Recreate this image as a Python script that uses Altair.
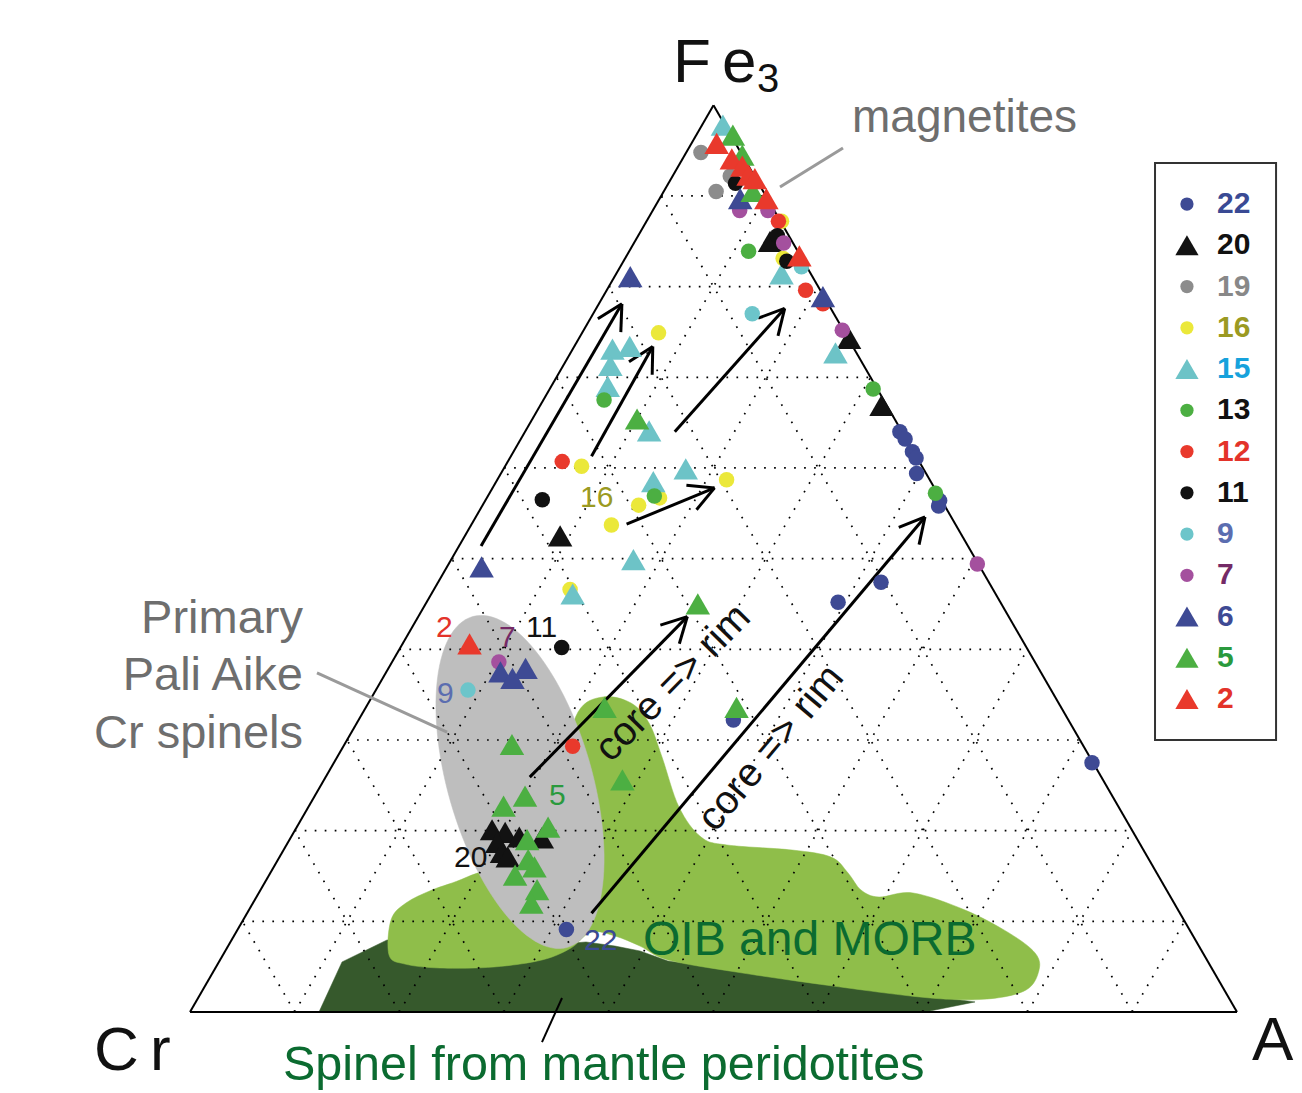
import math
import altair as alt
import pandas as pd

# ---------------- data: ternary compositions, Fe3+ % and Al % (Cr = 100 - Fe3 - Al)
series_names = ["22", "20", "19", "16", "15", "13", "12", "11", "9", "7", "6", "5", "2"]

fe_22 = [9.1, 32.2, 45.2, 47.4, 64.0, 63.2, 61.8, 61.1, 59.4, 56.4, 55.8, 27.5]
al_22 = [31.4, 35.8, 39.3, 42.3, 35.8, 36.7, 38.1, 38.8, 39.7, 43.4, 43.6, 72.4]

fe_20 = [20.1, 19.8, 18.7, 17.6, 17.1, 19.3, 19.2, 52.5, 66.9, 74.3, 85.0]
al_20 = [18.8, 20.2, 20.0, 21.0, 21.8, 21.8, 24.0, 9.1, 32.6, 25.8, 12.9]

fe_19 = [94.8, 90.5, 92.2]
al_19 = [1.4, 5.0, 5.5]

fe_16 = [74.9, 60.2, 58.7, 55.9, 53.7, 56.7, 46.6, 87.2, 83.1]
al_16 = [7.3, 7.3, 21.9, 14.9, 13.4, 16.5, 13.0, 12.9, 15.1]

fe_15 = [73.1, 73.4, 71.3, 69.0, 64.1, 59.9, 58.5, 49.9, 46.1, 97.8, 81.4, 72.7]
al_15 = [3.8, 5.3, 4.5, 5.4, 11.8, 17.4, 15.0, 17.4, 13.5, 2.0, 15.8, 25.3]

fe_13 = [83.9, 56.9, 67.5, 68.7, 57.2]
al_13 = [11.4, 15.9, 5.8, 30.9, 42.6]

fe_12 = [60.7, 29.3, 79.6, 87.2, 78.1]
al_12 = [5.2, 21.9, 19.0, 12.6, 21.4]

fe_11 = [56.5, 40.2, 91.4, 85.6, 82.8]
al_11 = [5.4, 15.4, 6.4, 13.3, 15.6]

fe_9 = [35.5, 77.0, 82.2]
al_9 = [8.8, 15.2, 17.3]

fe_7 = [38.6, 49.4, 75.2, 88.4, 88.4, 84.8]
al_7 = [10.2, 50.5, 24.7, 8.3, 11.0, 14.3]

fe_6 = [81.1, 49.1, 37.5, 36.8, 37.9, 78.9, 89.7]
al_6 = [1.5, 3.3, 10.9, 12.4, 13.1, 21.0, 7.7]

fe_5 = [29.5, 22.7, 23.8, 20.4, 19.0, 16.8, 16.0, 15.1, 13.5, 12.0, 33.6, 25.6, 65.4, 45.0, 33.6, 96.7, 94.5, 90.5]
al_5 = [16.0, 18.6, 20.1, 24.0, 22.7, 23.9, 24.9, 23.5, 26.4, 26.6, 22.8, 28.5, 10.0, 26.0, 35.4, 3.5, 5.5, 8.5]

fe_2 = [40.6, 95.8, 94.1, 93.3, 92.3, 91.9, 89.7, 83.4]
al_2 = [6.4, 2.4, 4.7, 6.1, 7.2, 8.0, 10.2, 16.5]

# core => rim arrows (tail Fe, tail Al, tip Fe, tip Al)
arrow_tail_fe = [51.4, 61.3, 64.0, 53.8, 25.9, 10.9]
arrow_tail_al = [2.1, 7.7, 14.3, 14.8, 19.5, 32.9]
arrow_tip_fe = [78.1, 73.4, 77.6, 57.8, 43.6, 54.6]
arrow_tip_al = [2.2, 7.5, 18.0, 21.2, 25.7, 42.9]

# fields (diagram units: Cr at (0,0), Al at (1,0))
peridotite_u = [0.1232, 0.1452, 0.1882, 0.2674, 0.3534, 0.3782, 0.4059, 0.4298, 0.4565, 0.5215, 0.6141, 0.7068, 0.7498, 0.7020]
peridotite_v = [0.0, 0.0478, 0.0688, 0.0688, 0.0649, 0.0669, 0.0630, 0.0583, 0.0487, 0.0401, 0.0267, 0.0153, 0.0096, 0.0]

oib_u = [0.1901, 0.1920, 0.2063, 0.2311, 0.2646, 0.3152, 0.3534, 0.3706, 0.3945, 0.4212, 0.4384, 0.4508, 0.4670,
         0.4881, 0.5129, 0.5750, 0.6122, 0.6285, 0.6409, 0.6581, 0.6905, 0.7402, 0.7822, 0.8071, 0.8109, 0.7985,
         0.7612, 0.7068, 0.6141, 0.5215, 0.4565, 0.4298, 0.4059, 0.3830, 0.3639, 0.3362, 0.2904, 0.2388, 0.2053]
oib_v = [0.0544, 0.0879, 0.1041, 0.1165, 0.1289, 0.1547, 0.2311, 0.2865, 0.3009, 0.2951, 0.2760, 0.2436, 0.1958,
         0.1671, 0.1595, 0.1547, 0.1480, 0.1328, 0.1165, 0.1098, 0.1137, 0.0974, 0.0755, 0.0564, 0.0401, 0.0210,
         0.0124, 0.0134, 0.0248, 0.0382, 0.0497, 0.0630, 0.0726, 0.0764, 0.0611, 0.0497, 0.0430, 0.0420, 0.0458]

# Primary Pali Aike field: ellipse centre, semi-axes, tilt
pali_center = (0.3152, 0.2197)
pali_axes = (0.1643, 0.0690)
pali_tilt_deg = 16

# ---------------- styles
FONT = "Liberation Sans"
SHAPE = {"22": "circle", "20": "triangle-up", "19": "circle", "16": "circle", "15": "triangle-up",
         "13": "circle", "12": "circle", "11": "circle", "9": "circle", "7": "circle",
         "6": "triangle-up", "5": "triangle-up", "2": "triangle-up"}
MARK_COLOR = {"22": "#3e4a94", "20": "#121212", "19": "#8c8c8c", "16": "#ebe83a", "15": "#6dc3c7",
              "13": "#4caf42", "12": "#e9392c", "11": "#111111", "9": "#6cc5ca", "7": "#a4509e",
              "6": "#3e4a94", "5": "#4caf42", "2": "#e9392c"}
LABEL_COLOR = {"22": "#3a4a94", "20": "#111111", "19": "#888888", "16": "#9b9a22", "15": "#16a2dc",
               "13": "#111111", "12": "#e3332a", "11": "#111111", "9": "#5b6db0", "7": "#742a66",
               "6": "#3e4a94", "5": "#2a9a3d", "2": "#e3332a"}
SERIES_DATA = {"22": (fe_22, al_22), "20": (fe_20, al_20), "19": (fe_19, al_19), "16": (fe_16, al_16),
               "15": (fe_15, al_15), "13": (fe_13, al_13), "12": (fe_12, al_12), "11": (fe_11, al_11),
               "9": (fe_9, al_9), "7": (fe_7, al_7), "6": (fe_6, al_6), "5": (fe_5, al_5), "2": (fe_2, al_2)}
SIZE = {"circle": 240, "triangle-up": 600}
LEG_SIZE = {"circle": 175, "triangle-up": 540}

S3 = math.sqrt(3) / 2


def tern(fe, al):
    return al / 100 + fe / 200, fe / 100 * S3


W, H = 1286, 1085
XS = alt.Scale(domain=[-182 / 1047, (W - 182) / 1047], nice=False, zero=False)
YS = alt.Scale(domain=[(1004 - H) / 1047, 1004 / 1047], nice=False, zero=False)


def X(f):
    return alt.X(f, type="quantitative", scale=XS, axis=None)


def Y(f):
    return alt.Y(f, type="quantitative", scale=YS, axis=None)


def rules(rows, **kw):
    return alt.Chart(pd.DataFrame(rows)).mark_rule(**kw).encode(
        x=X("x"), y=Y("y"), x2="x2:Q", y2="y2:Q")


def seg(p, q):
    return dict(x=p[0], y=p[1], x2=q[0], y2=q[1])


# ---------------- polygons
def poly(us, vs, color, interp):
    df = pd.DataFrame({"x": us, "y": vs, "i": range(len(us))})
    return alt.Chart(df).mark_line(fill=color, stroke=color, strokeWidth=0.5,
                                   interpolate=interp).encode(
        x=X("x"), y=Y("y"), order=alt.Order("i:Q"))


th = math.radians(pali_tilt_deg)
d = (-math.sin(th), math.cos(th))
e = (math.cos(th), math.sin(th))
eu, ev = [], []
for k in range(120):
    t = 2 * math.pi * k / 120
    ca, sb = pali_axes[0] * math.cos(t), pali_axes[1] * math.sin(t)
    eu.append(pali_center[0] + ca * d[0] + sb * e[0])
    ev.append(pali_center[1] + ca * d[1] + sb * e[1])

layers = [
    poly(peridotite_u, peridotite_v, "#36592c", "linear-closed"),
    poly(oib_u, oib_v, "#8fbe4a", "cardinal-closed"),
    poly(eu, ev, "#bebebe", "linear-closed"),
]

# ---------------- grid
grid = []
for k in range(1, 10):
    c = 10 * k
    grid.append(seg(tern(c, 0), tern(c, 100 - c)))
    grid.append(seg(tern(0, c), tern(100 - c, c)))
    grid.append(seg(tern(0, 100 - c), tern(100 - c, 0)))
layers.append(rules(grid, color="black", strokeWidth=1.7, strokeDash=[1.7, 8.3]))

edges = [seg(tern(0, 0), tern(0, 100)), seg(tern(0, 0), tern(100, 0)), seg(tern(0, 100), tern(100, 0))]
layers.append(rules(edges, color="black", strokeWidth=2))

# pointer lines
layers.append(rules([dict(x=0.6237, y=0.8252, x2=0.5635, y2=0.7880),
                     dict(x=0.1213, y=0.3238, x2=0.2455, y2=0.2674)], color="#9a9a9a", strokeWidth=3))
layers.append(rules([dict(x=0.3553, y=0.0134, x2=0.3362, y2=-0.0287)], color="black", strokeWidth=2))

# arrows
arr = []
hl, ha = 0.027, math.radians(28)
for tf, ta, pf, pa in zip(arrow_tail_fe, arrow_tail_al, arrow_tip_fe, arrow_tip_al):
    p0, p1 = tern(tf, ta), tern(pf, pa)
    dx, dy = p1[0] - p0[0], p1[1] - p0[1]
    L = math.hypot(dx, dy)
    ux, uy = dx / L, dy / L
    arr.append(seg(p0, p1))
    for s in (1, -1):
        rx = ux * math.cos(s * ha) - uy * math.sin(s * ha)
        ry = ux * math.sin(s * ha) + uy * math.cos(s * ha)
        arr.append(seg(p1, (p1[0] - hl * rx, p1[1] - hl * ry)))
layers.append(rules(arr, color="black", strokeWidth=3))

# ---------------- points
pts = []
for si, name in enumerate(series_names):
    fes, als = SERIES_DATA[name]
    for j, (f, a) in enumerate(zip(fes, als)):
        x, y = tern(f, a)
        pts.append(dict(x=x, y=y, shape=SHAPE[name], color=MARK_COLOR[name],
                        size=SIZE[SHAPE[name]], o=si * 100 + j))
layers.append(alt.Chart(pd.DataFrame(pts)).mark_point(filled=True, opacity=1, strokeWidth=0).encode(
    x=X("x"), y=Y("y"), shape=alt.Shape("shape:N", scale=None), color=alt.Color("color:N", scale=None),
    size=alt.Size("size:Q", scale=None), order=alt.Order("o:Q")))


# ---------------- texts
def texts(rows, align, baseline, weight="normal"):
    df = pd.DataFrame(rows)
    if "a" not in df:
        df["a"] = 0
    return alt.Chart(df).mark_text(align=align, baseline=baseline, font=FONT, fontWeight=weight).encode(
        x=X("x"), y=Y("y"), text="t:N", size=alt.Size("s:Q", scale=None),
        color=alt.Color("c:N", scale=None), angle=alt.Angle("a:Q", scale=None))


GRAY = "#6e6e6e"
DKG = "#0b6b30"
left_txt = [
    dict(x=0.4613, y=0.8883, t="F", s=62, c="#111111"),
    dict(x=0.5081, y=0.8883, t="e", s=62, c="#111111"),
    dict(x=0.5415, y=0.8787, t="3", s=40, c="#111111"),
    dict(x=-0.0917, y=-0.0554, t="C", s=62, c="#111111"),
    dict(x=-0.0382, y=-0.0554, t="r", s=62, c="#111111"),
    dict(x=1.0143, y=-0.0458, t="A", s=62, c="#111111"),
    dict(x=0.6323, y=0.8405, t="magnetites", s=46, c=GRAY),
    dict(x=0.4327, y=0.0544, t="OIB and MORB", s=48, c=DKG),
    dict(x=0.0888, y=-0.0650, t="Spinel from mantle peridotites", s=48.5, c=DKG),
    dict(x=0.3725, y=0.4823, t="16", s=30, c="#9b9a22"),
    dict(x=0.2350, y=0.3582, t="2", s=30, c="#e3332a"),
    dict(x=0.2951, y=0.3486, t="7", s=30, c="#742a66"),
    dict(x=0.3209, y=0.3582, t="11", s=30, c="#111111"),
    dict(x=0.2359, y=0.2951, t="9", s=30, c="#5b6db0"),
    dict(x=0.3429, y=0.1977, t="5", s=30, c="#2a9a3d"),
    dict(x=0.2521, y=0.1385, t="20", s=30, c="#111111"),
    dict(x=0.3763, y=0.0592, t="22", s=30, c="#3a4a94"),
]
layers.append(texts(left_txt, "left", "alphabetic"))
right_txt = [
    dict(x=0.1079, y=0.3620, t="Primary", s=47, c=GRAY),
    dict(x=0.1079, y=0.3075, t="Pali Aike", s=47, c=GRAY),
    dict(x=0.1079, y=0.2521, t="Cr spinels", s=47, c=GRAY),
]
layers.append(texts(right_txt, "right", "alphabetic"))
core_txt = [
    dict(x=0.4613, y=0.3142, t="core => rim", s=40, c="#111111", a=314.5),
    dict(x=0.5549, y=0.2521, t="core => rim", s=40, c="#111111", a=310),
]
layers.append(texts(core_txt, "center", "middle"))

# ---------------- legend
leg_box = pd.DataFrame([dict(x=0.9217, x2=1.0373, y=0.8109, y2=0.2598)])
layers.append(alt.Chart(leg_box).mark_rect(fill="white", stroke="#333333", strokeWidth=2).encode(
    x=X("x"), x2="x2:Q", y=Y("y"), y2="y2:Q"))
leg_pts, leg_lab = [], []
for i, name in enumerate(series_names):
    v = 0.7717 - 0.0394 * i
    leg_pts.append(dict(x=0.9522, y=v, shape=SHAPE[name], color=MARK_COLOR[name], size=LEG_SIZE[SHAPE[name]]))
    leg_lab.append(dict(x=0.9809, y=v, t=name, s=30, c=LABEL_COLOR[name]))
layers.append(alt.Chart(pd.DataFrame(leg_pts)).mark_point(filled=True, opacity=1, strokeWidth=0).encode(
    x=X("x"), y=Y("y"), shape=alt.Shape("shape:N", scale=None), color=alt.Color("color:N", scale=None),
    size=alt.Size("size:Q", scale=None)))
layers.append(texts(leg_lab, "left", "middle", weight="bold"))

chart = alt.layer(*layers).properties(
    width=W, height=H, padding=0, autosize=alt.AutoSizeParams(type="none")
).configure_view(strokeWidth=0)

chart.save("out.html", embed_options={"renderer": "svg", "actions": False})
